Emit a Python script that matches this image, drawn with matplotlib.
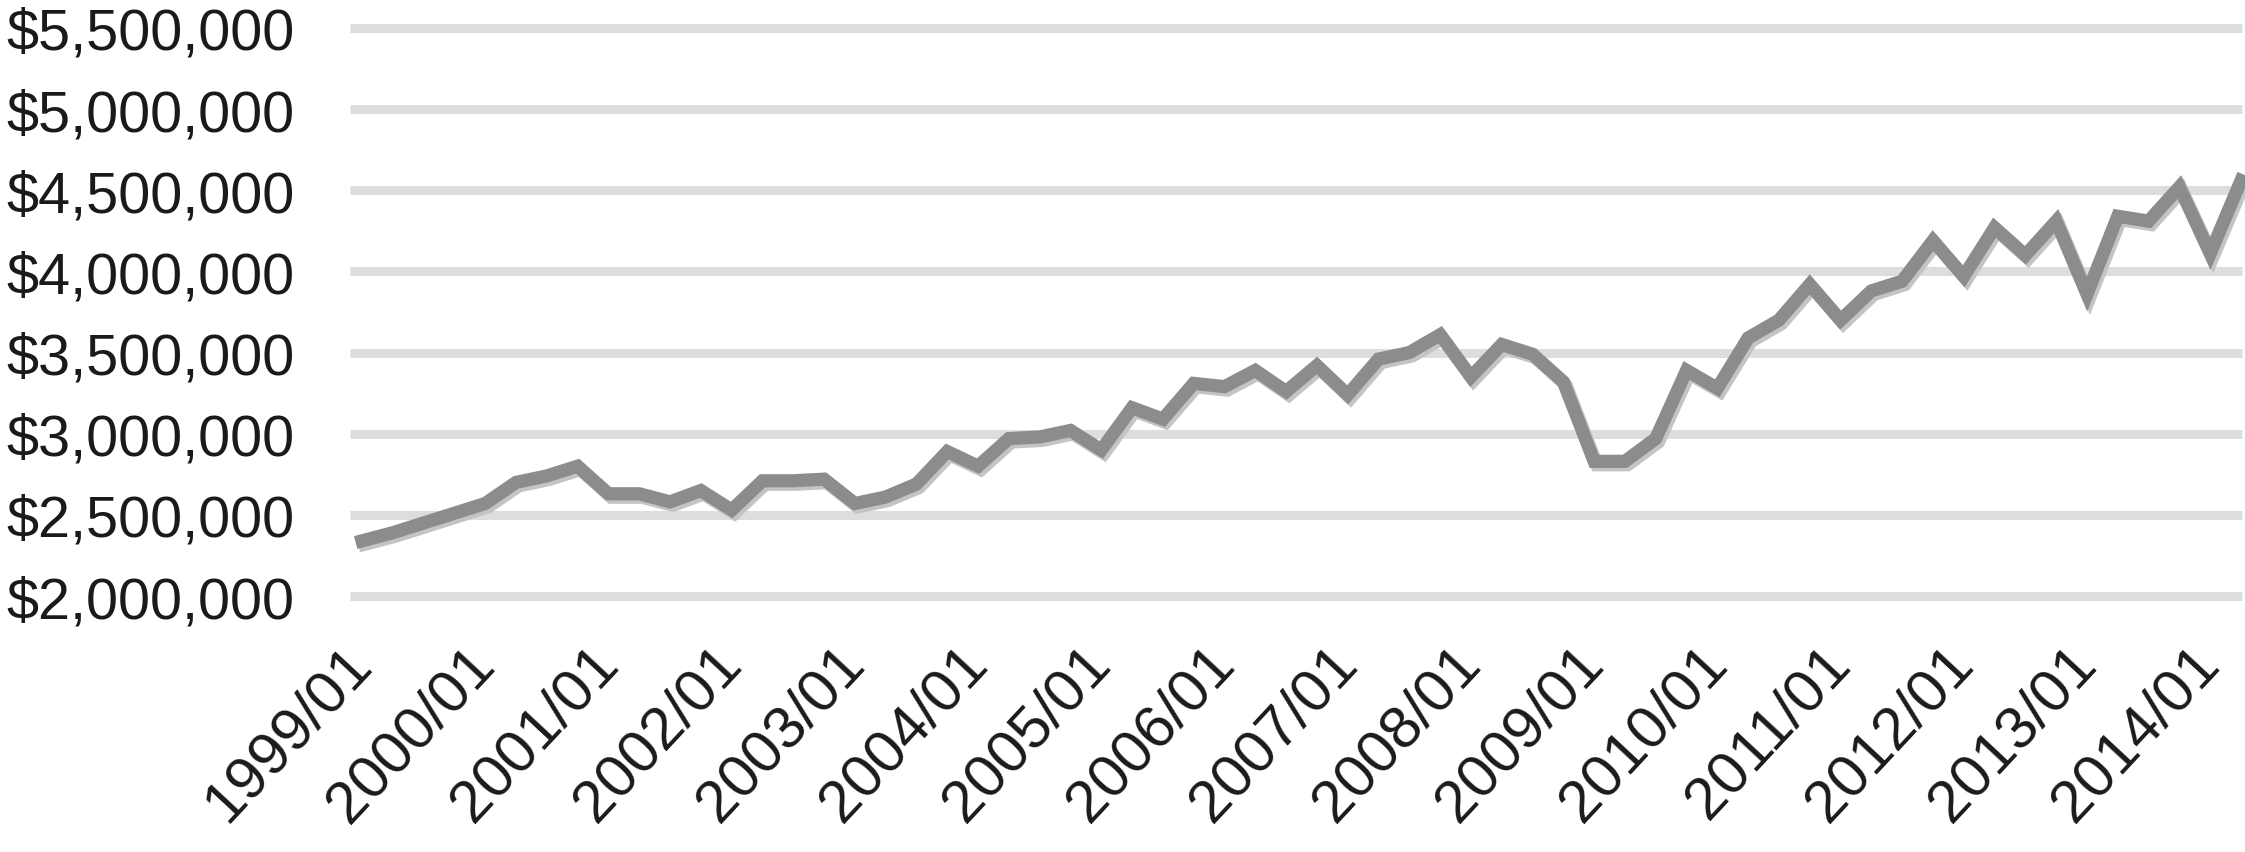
#!/usr/bin/env python3
# -*- coding: utf-8 -*-

import matplotlib
matplotlib.use('Agg')
import matplotlib.pyplot as plt
import matplotlib.patheffects as pe
from matplotlib.ticker import FuncFormatter

# quarterly values, 1999/01 .. 2014/04 (in $ millions)
values_m = [2.34, 2.39, 2.45, 2.51, 2.57, 2.70, 2.74, 2.80, 2.63, 2.63,
            2.58, 2.65, 2.53, 2.71, 2.71, 2.72, 2.57, 2.61, 2.69, 2.89,
            2.80, 2.97, 2.98, 3.02, 2.90, 3.16, 3.09, 3.31, 3.29, 3.39,
            3.26, 3.42, 3.24, 3.46, 3.50, 3.61, 3.35, 3.55, 3.49, 3.32,
            2.83, 2.83, 2.97, 3.39, 3.28, 3.59, 3.70, 3.92, 3.70, 3.88,
            3.94, 4.19, 3.97, 4.27, 4.10, 4.31, 3.86, 4.34, 4.31, 4.52,
            4.11, 4.56]
years = list(range(1999, 2015))
quarter_months = ['01', '04', '07', '10']
y_ticks = [2000000, 2500000, 3000000, 3500000, 4000000, 4500000, 5000000, 5500000]

categories = [f'{y}/{m}' for y in years for m in quarter_months][:len(values_m)]
values = [v * 1e6 for v in values_m]
x = list(range(len(values)))

plt.rcParams['font.family'] = ['Liberation Sans', 'DejaVu Sans']

fig = plt.figure(figsize=(22.45, 8.53), dpi=100)
ax = fig.add_axes([350 / 2245, 1 - 597 / 853, 1 - 350 / 2245, (597 - 29) / 853])

left, right = -0.39, 61.13
ax.set_xlim(left, right)
ax.set_ylim(y_ticks[0], y_ticks[-1])

# gridlines (drawn by hand so the top one is not clipped)
ax.hlines(y_ticks, left, 61.03, colors='#dcdddf', linewidth=6.5, clip_on=False, zorder=1)

ax.plot(x, values, color='#8b8c8e', linewidth=9.5, solid_joinstyle='miter', zorder=3,
        path_effects=[pe.SimpleLineShadow(offset=(2, -2.5), shadow_color='#c3c4c6', alpha=1),
                      pe.Normal()])

ax.set_yticks(y_ticks)
ax.yaxis.set_major_formatter(FuncFormatter(lambda v, p: f'${v:,.0f}'))
ax.tick_params(axis='y', length=0, pad=40, labelsize=41.5, labelcolor='#1a1a1a')

tick_idx = [i for i, c in enumerate(categories) if c.endswith('/01')]
ax.set_xticks(tick_idx)
ax.set_xticklabels([categories[i] for i in tick_idx], rotation=47, ha='right',
                   va='center', rotation_mode='anchor')
ax.tick_params(axis='x', length=0, pad=42, labelsize=43, labelcolor='#1a1a1a')

for s in ax.spines.values():
    s.set_visible(False)

fig.savefig('out.png', dpi=100)
